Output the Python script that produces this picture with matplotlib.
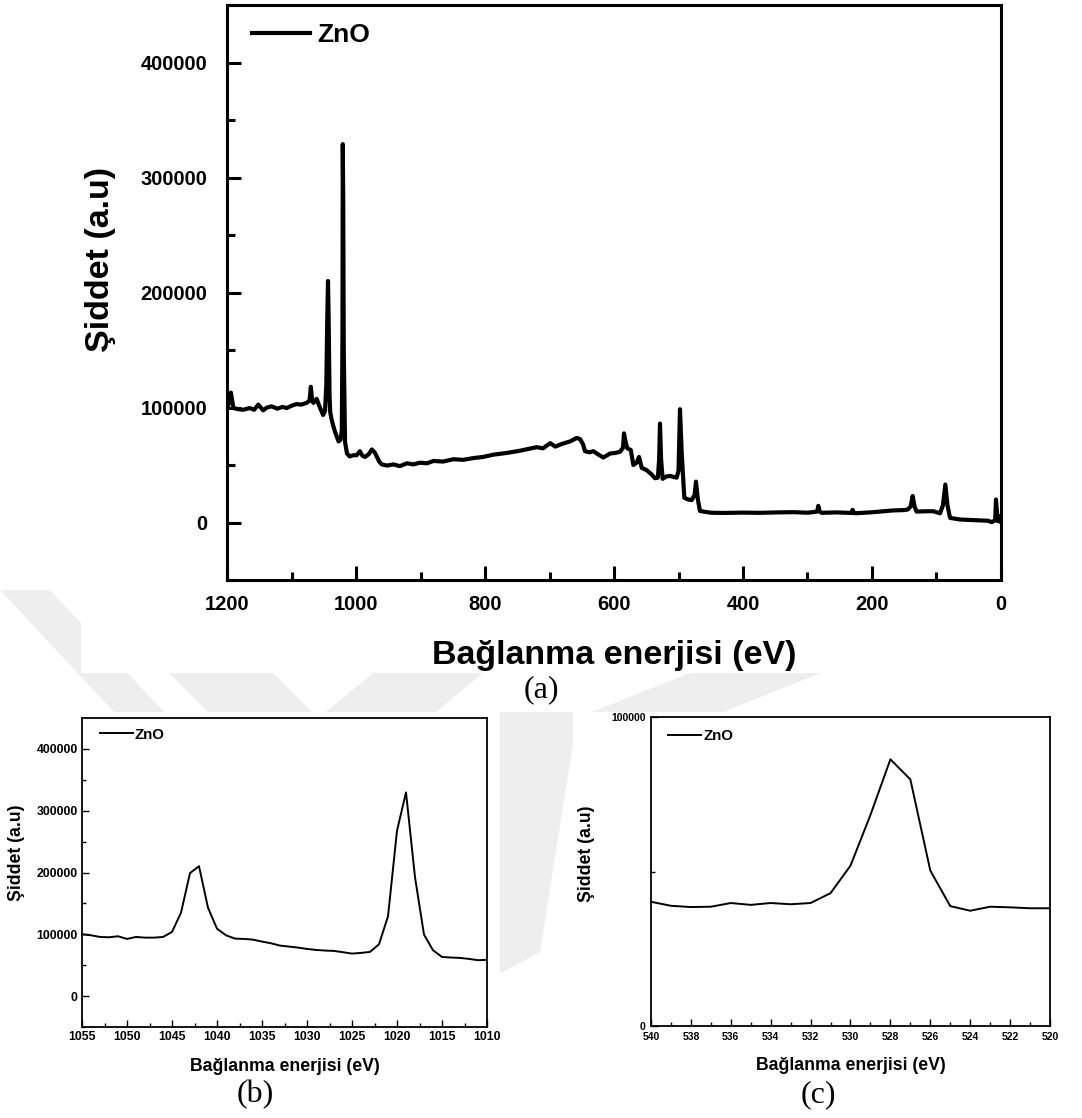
import matplotlib.pyplot as plt
from matplotlib.ticker import MultipleLocator, FixedLocator
from matplotlib.patches import Polygon, Rectangle

plt.rcParams['font.family'] = ['Liberation Sans', 'DejaVu Sans']
plt.rcParams['font.weight'] = 'bold'

# (a) survey spectrum, binding energy (eV) and intensity (a.u.)
survey_ev = [1200, 1198, 1194, 1190, 1182, 1175, 1165, 1158, 1151.5, 1144, 1138, 1131,
             1122, 1114, 1107.5, 1100, 1092, 1085, 1076.5, 1072, 1070, 1068, 1066, 1061,
             1056, 1051, 1048, 1046, 1044.5, 1043.4, 1042.5, 1041, 1040, 1038, 1035, 1032,
             1030, 1027, 1024, 1022, 1021, 1020.5, 1019.8, 1019, 1017, 1014, 1010, 1004,
             999, 994, 990, 986, 980, 975.5, 971, 968, 964, 960, 952, 942, 932, 921, 911,
             901, 890, 880, 865, 849, 834, 818, 803, 787, 766, 745, 720, 710, 699, 691,
             680, 668, 658, 652.6, 648, 645, 638, 632, 624, 616.6, 606, 598, 590.7, 586,
             584.5, 582, 579.3, 574, 570, 565, 561.2, 557, 549.3, 542, 536.4, 532, 530,
             528.7, 527, 524.6, 519, 513.2, 507, 502.8, 500, 497.7, 495, 491, 485, 479.6,
             475, 472.9, 470, 466.7, 450, 430.5, 400, 373.6, 345, 322, 300, 285, 283.3,
             281, 278, 255, 232, 230, 228, 224, 200, 167, 150, 144.6, 140, 137, 134, 131,
             115, 104.9, 94.5, 90, 86.3, 83, 79, 63.6, 37.8, 20, 14.5, 9, 7.8, 6.5, 5.2,
             2.7, 0.6]
survey_int = [100000, 102000, 113000, 99500, 98500, 98000, 99500, 98000, 102500, 97500,
              100000, 101000, 99000, 100500, 99500, 101500, 103000, 102500, 104000, 106000,
              118000, 106000, 104000, 107500, 100000, 93500, 97000, 120000, 180000, 210000,
              180000, 110000, 96000, 90000, 83500, 78000, 75000, 70500, 72000, 80000,
              160000, 329000, 280000, 150000, 70000, 60000, 57500, 58500, 58500, 62000,
              58000, 57000, 59500, 63500, 61000, 57500, 53000, 50500, 49500, 50500, 49000,
              51500, 50500, 52000, 51500, 53500, 53000, 55000, 54500, 56000, 57000, 59000,
              60500, 62500, 65500, 64500, 69000, 66000, 68500, 70500, 73500, 72500, 68000,
              62000, 61000, 62000, 59000, 56500, 60000, 60500, 61500, 65000, 77500, 70000,
              64500, 63000, 50000, 52000, 57000, 47500, 45500, 42000, 38500, 39000, 55000,
              86000, 55000, 38000, 40000, 40500, 39500, 39000, 45000, 98500, 60000, 21500,
              20000, 19500, 24000, 35500, 20000, 10000, 8500, 8300, 8600, 8400, 8800, 9000,
              8500, 9500, 14500, 9500, 8400, 8800, 8300, 11000, 8200, 8100, 8900, 10500,
              10800, 11300, 14000, 23000, 14000, 9500, 9800, 9800, 8000, 15000, 33000,
              15000, 4000, 2600, 2000, 1500, 300, 2000, 20000, 10000, 1200, 5500, 1000]

# (b) Zn 2p region
zn_ev = list(range(1055, 1009, -1))
zn_int = [100000, 98400, 95700, 95200, 96800, 92500, 95700, 94600, 94600, 95700,
          103800, 135000, 199000, 210200, 143000, 109100, 98400, 93000, 92500, 91400,
          88200, 85500, 81700, 80100, 78500, 76300, 74700, 73700, 73100, 71000, 68800,
          69900, 71500, 83900, 129000, 267700, 329600, 192500, 99500, 74200, 63400,
          62400, 61800, 60200, 58100, 58600]

# (c) O 1s region
o_ev = list(range(540, 519, -1))
o_int = [40200, 38900, 38500, 38600, 39800, 39200, 39800, 39400, 39800, 43000, 51900,
         68300, 86300, 79800, 50300, 38800, 37300, 38600, 38400, 38100, 38100]

W, H = 1082, 1118
fig = plt.figure(figsize=(W / 100, H / 100), dpi=100)


def box(x0, y0, x1, y1):
    # pixel box (top-left origin) -> figure fraction rect
    return [x0 / W, 1 - y1 / H, (x1 - x0) / W, (y1 - y0) / H]


# page background: faint grey chevrons, hidden behind the white figure boxes
bg = fig.add_axes([0, 0, 1, 1], zorder=-10)
bg.set_xlim(0, W)
bg.set_ylim(H, 0)
bg.axis('off')
wm = '#eeeeee'
bands = [
    [(0, 590), (50, 590), (164, 712), (114, 712)],
    [(86, 590), (190, 590), (312, 712), (208, 712)],
    [(473, 590), (583, 590), (436, 712), (326, 712)],
    [(898, 590), (1029, 590), (723, 712), (592, 712)],
    [(470, 712), (578, 712), (540, 952), (503, 972), (470, 972)],
]
for b in bands:
    bg.add_patch(Polygon(b, closed=True, facecolor=wm, edgecolor='none'))
for x0, y0, x1, y1 in [(81, 0, 1082, 673), (0, 712, 500, 1118), (573, 712, 1082, 1118)]:
    bg.add_patch(Rectangle((x0, y0), x1 - x0, y1 - y0, facecolor='white',
                           edgecolor='none'))

# ---- (a) survey ----
ax = fig.add_axes(box(227, 5, 1001, 580))
ax.plot(survey_ev, survey_int, color='black', lw=3.0, label='ZnO')
ax.set_xlim(1200, 0)
ax.set_ylim(-50000, 450000)
ax.xaxis.set_major_locator(MultipleLocator(200))
ax.xaxis.set_minor_locator(MultipleLocator(100))
ax.yaxis.set_major_locator(MultipleLocator(100000))
ax.yaxis.set_minor_locator(MultipleLocator(50000))
ax.tick_params(which='both', direction='in', width=2.2, labelsize=14.5)
ax.tick_params(which='major', length=10)
ax.tick_params(which='minor', length=6)
ax.tick_params(axis='x', pad=11)
ax.tick_params(axis='y', pad=14)
ax.tick_params(top=False, right=False, which='both')
for s in ax.spines.values():
    s.set_linewidth(2.2)
ax.set_xlabel('Bağlanma enerjisi (eV)', fontsize=24.5, fontweight='bold')
ax.set_ylabel('Şiddet (a.u)', fontsize=24.5, fontweight='bold')
ax.xaxis.set_label_coords(0.5, -0.104)
ax.yaxis.set_label_coords(-0.143, 0.558)
ax.legend(loc='upper left', bbox_to_anchor=(0.032, 0.968), frameon=False, fontsize=19,
          handlelength=2.2, handletextpad=0.3, borderaxespad=0, borderpad=0)
fig.text(541 / W, 1 - 690 / H, '(a)', family='Liberation Serif', fontweight='normal',
         fontsize=23, ha='center', va='center')

# ---- (b) Zn 2p ----
bx = fig.add_axes(box(82, 718, 487, 1027))
bx.plot(zn_ev, zn_int, color='black', lw=1.4, label='ZnO')
bx.set_xlim(1055, 1010)
bx.set_ylim(-50000, 450000)
bx.xaxis.set_major_locator(MultipleLocator(5))
bx.xaxis.set_minor_locator(MultipleLocator(2.5))
bx.yaxis.set_major_locator(FixedLocator([0, 100000, 200000, 300000, 400000]))
bx.yaxis.set_minor_locator(FixedLocator([-50000, 50000, 150000, 250000, 350000]))
bx.tick_params(which='both', direction='in', width=1.0, labelsize=8.8, pad=3)
bx.tick_params(which='major', length=5)
bx.tick_params(which='minor', length=3)
bx.tick_params(top=False, right=False, which='both')
for s in bx.spines.values():
    s.set_linewidth(1.3)
bx.set_xlabel('Bağlanma enerjisi (eV)', fontsize=12.7, fontweight='bold')
bx.set_ylabel('Şiddet (a.u)', fontsize=12.7, fontweight='bold')
bx.xaxis.set_label_coords(0.5, -0.1)
bx.yaxis.set_label_coords(-0.141, 0.563)
bx.legend(loc='upper left', bbox_to_anchor=(0.044, 0.969), frameon=False, fontsize=10.8,
          handlelength=2.2, handletextpad=0.13, borderaxespad=0, borderpad=0)
fig.text(255 / W, 1 - 1095 / H, '(b)', family='Liberation Serif', fontweight='normal',
         fontsize=23, ha='center', va='center')

# ---- (c) O 1s ----
cx = fig.add_axes(box(651, 717, 1050, 1026))
cx.plot(o_ev, o_int, color='black', lw=1.4, label='ZnO')
cx.set_xlim(540, 520)
cx.set_ylim(0, 100000)
cx.xaxis.set_major_locator(MultipleLocator(2))
cx.xaxis.set_minor_locator(MultipleLocator(1))
cx.yaxis.set_major_locator(FixedLocator([0, 100000]))
cx.yaxis.set_minor_locator(FixedLocator([50000]))
cx.tick_params(which='both', direction='in', width=1.0, labelsize=7.5, pad=4)
cx.tick_params(which='major', length=5)
cx.tick_params(which='minor', length=3)
cx.tick_params(top=False, right=False, which='both')
for s in cx.spines.values():
    s.set_linewidth(1.3)
cx.set_xlabel('Bağlanma enerjisi (eV)', fontsize=12.7, fontweight='bold')
cx.set_ylabel('Şiddet (a.u)', fontsize=12.7, fontweight='bold')
cx.xaxis.set_label_coords(0.5, -0.1)
cx.yaxis.set_label_coords(-0.14, 0.557)
cx.legend(loc='upper left', bbox_to_anchor=(0.043, 0.961), frameon=False, fontsize=10.8,
          handlelength=2.2, handletextpad=0.13, borderaxespad=0, borderpad=0)
fig.text(818 / W, 1 - 1095 / H, '(c)', family='Liberation Serif', fontweight='normal',
         fontsize=23, ha='center', va='center')

fig.savefig('out.png', dpi=100)
